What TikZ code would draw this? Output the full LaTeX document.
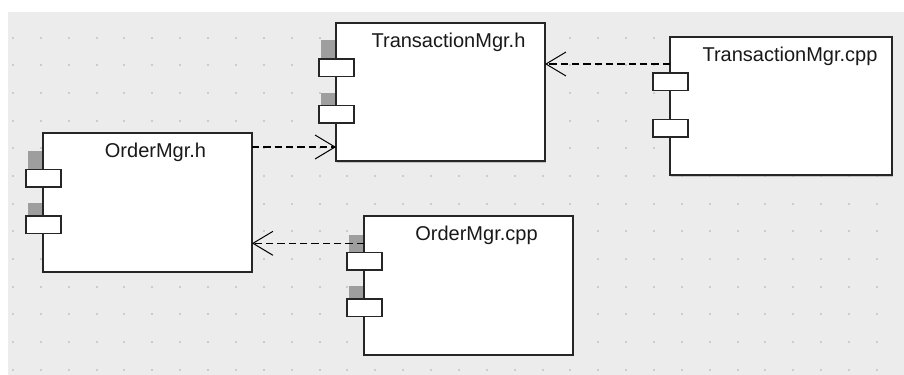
\documentclass[tikz,border=0pt]{standalone}
\usepackage{fontspec}
\setmainfont{Liberation Sans}
\usetikzlibrary{arrows.meta,calc,shadows}

\tikzset{
  comp/.style={draw=black!85, line width=1.5pt, fill=white, inner sep=0pt, outer sep=0pt,
    anchor=north west, drop shadow={shadow xshift=1pt, shadow yshift=-1pt, fill=black!40}},
  port/.style={draw=black!85, line width=1.1pt, fill=white},
  tab/.style={fill=black!38},
  lbl/.style={font=\fontsize{15}{18}\selectfont, text=black!90, anchor=base},
  dep/.style={line width=1pt, dash pattern=on 5.5pt off 3pt,
    -{Straight Barb[length=15pt, width=18pt, line width=0.75pt]}}
}

\begin{document}
\begin{tikzpicture}[x=0.75pt,y=-0.75pt]
        \useasboundingbox (0,0) rectangle (904,375);
        % grid background
        \fill[black!7.5] (8,12) rectangle (904,375);
        \foreach \i in {0,...,31}
          \foreach \j in {0,...,12}
            \fill[black!20] ({12+27.87*\i},{36.7+27.65*\j}) rectangle ++(2,2);

        % tabs behind the ports
        \fill[tab] (28,151) rectangle (43,170);
        \fill[tab] (28,203) rectangle (43,216.5);
        \fill[tab] (321,40) rectangle (336,59.5);
        \fill[tab] (321,93) rectangle (336,106.5);
        \fill[tab] (349,235) rectangle (364,252.5);
        \fill[tab] (349,286) rectangle (364,299.5);

        % components
        \node[comp, minimum width=156.75pt, minimum height=103.9pt] (ordh) at (43,133) {};
        \node[comp, minimum width=156.75pt, minimum height=103.9pt] (trh) at (336,22.7) {};
        \node[comp, minimum width=166.5pt, minimum height=103.9pt] (trc) at (670,36.7) {};
        \node[comp, minimum width=156.75pt, minimum height=103.9pt] (ordc) at (364,216) {};

        \foreach \c in {ordh,trh,trc,ordc}
          \foreach \d in {36.5,83}
            \draw[port] ($(\c.north west)+(-17,\d)$) rectangle ++(35,17.5);

        \node[lbl] (ordhl) at ($(ordh.north)+(8,24.5)$) {OrderMgr.h};
        \node[lbl] (trhl) at ($(trh.north)+(8,24.5)$) {TransactionMgr.h};
        \node[lbl] (trcl) at ($(trc.north)+(9,24.5)$) {TransactionMgr.cpp};
        \node[lbl] (ordcl) at ($(ordc.north)+(8,24.5)$) {OrderMgr.cpp};

        % dependencies
        \coordinate (d1) at ($(ordh.north east)+(0,14)$);
        \coordinate (d2) at ($(trc.north west)+(0,27.3)$);
        \coordinate (d3) at ($(ordc.north west)+(0,27.3)$);
        \draw[dep] (d1) -- (trh.west |- d1);
        \draw[dep] (d2) -- (trh.east |- d2);
        \draw[dep] (d3) -- (ordh.east |- d3);
\end{tikzpicture}
\end{document}
